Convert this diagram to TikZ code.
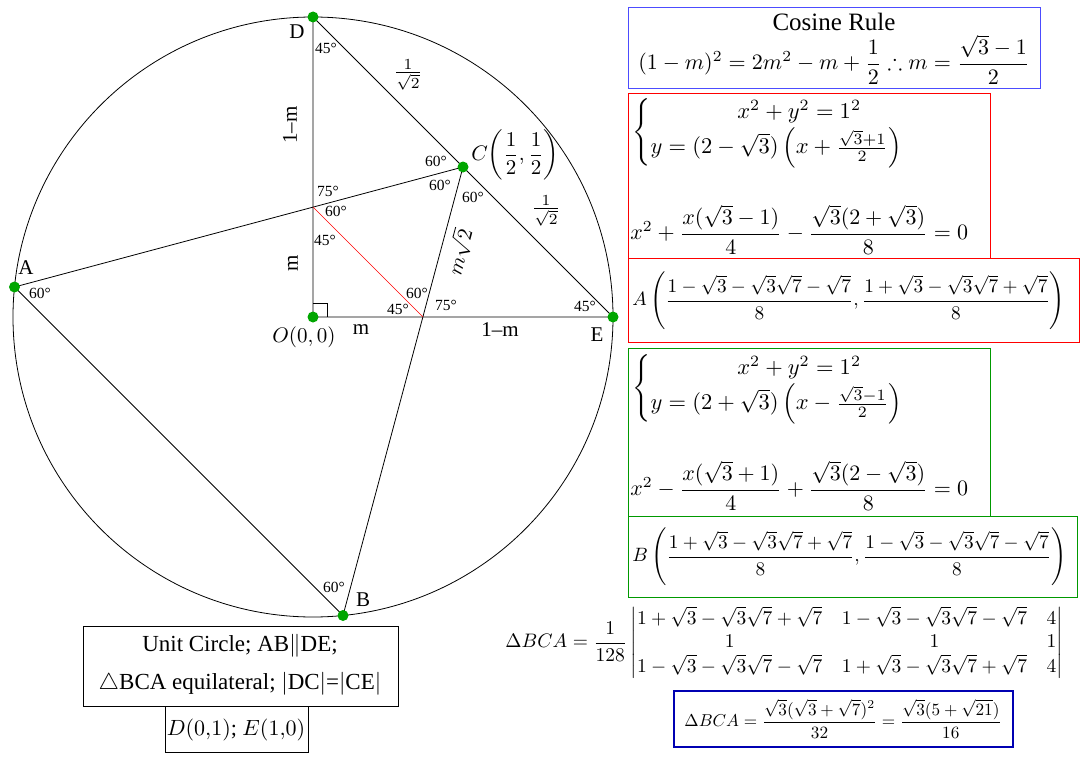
\documentclass[tikz,border=0pt]{standalone}
\usepackage{amsmath,amssymb}
\usepackage{fontspec}
\setmainfont{Liberation Serif}
\newcommand\SB[2]{\scalebox{#1}{#2}}
\begin{document}
\begin{tikzpicture}[x=1pt,y=-1pt,line width=0.8pt,
  dot/.style={circle,fill=green!65!black,inner sep=0pt,minimum size=11pt},
  ang/.style={font=\fontsize{15.5}{16}\selectfont,inner sep=1pt},
  lab/.style={font=\fontsize{21}{22}\selectfont}]
\useasboundingbox (0,0) rectangle (1090,760);
\draw (313,317) circle (300);
\coordinate (O) at (313,317);
\coordinate (D) at (313,17);
\coordinate (E) at (613,317);
\coordinate (C) at (463,167);
\coordinate (A) at (14.5,287);
\coordinate (B) at (343,615.5);
\coordinate (P) at (313,207);
\coordinate (Q) at (423,317);
\draw (D) -- (O) -- (E) -- (D);
\draw (A) -- (C) -- (B) -- (A);
\draw[red,line width=0.6pt] (P) -- (Q);
\draw (O) ++(0,-14) -| ++(14,14);
\foreach \p in {O,D,E,C,A,B} \node[dot] at (\p) {};
% labels
\node[lab] at (297,32) {D};
\node[lab] at (26,268) {A};
\node[lab] at (363,600) {B};
\node[lab] at (597,335) {E};
\node[anchor=west,inner sep=0pt] at (471,155) {\SB{2.1}{$C\!\left(\dfrac12,\dfrac12\right)$}};
\node at (304,337) {\SB{2.1}{$O(0,0)$}};
\node[lab] at (361,330) {m};
\node[lab] at (500,330) {1--m};
\node[lab,rotate=90] at (293,263) {m};
\node[lab,rotate=90] at (290,125) {1--m};
\node at (408,75) {\SB{2.2}{$\frac{1}{\sqrt2}$}};
\node at (546,211) {\SB{2.2}{$\frac{1}{\sqrt2}$}};
\node[rotate=75] at (459,252) {\SB{2.1}{$m\sqrt2$}};
% angles
\node[ang] at (326,48) {45°};
\node[ang] at (40,293) {60°};
\node[ang] at (334,587) {60°};
\node[ang] at (585,306) {45°};
\node[ang] at (436,161) {60°};
\node[ang] at (440,185) {60°};
\node[ang] at (473,197) {60°};
\node[ang] at (328,191) {75°};
\node[ang] at (336,211) {60°};
\node[ang] at (325,240) {45°};
\node[ang] at (417,293) {60°};
\node[ang] at (398,309) {45°};
\node[ang] at (446,305) {75°};
% right boxes
\draw[blue!70,line width=0.6pt] (628,7) rectangle (1040,88);
\node at (834,22) {\fontsize{25}{26}\selectfont Cosine Rule};
\node at (834,60) {\SB{2.2}{$(1-m)^2=2m^2-m+\dfrac12 \therefore m=\dfrac{\sqrt3-1}{2}$}};
\draw[red,line width=0.6pt] (628,93) rectangle (990,258);
\node[anchor=west,inner sep=0pt] at (632,132) {\SB{2.25}{$\begin{cases} \hphantom{y={}}\quad\quad x^2+y^2=1^2\\ y=(2-\sqrt3)\left(x+\frac{\sqrt3+1}{2}\right)\end{cases}$}};
\node[anchor=west,inner sep=0pt] at (630,230) {\SB{2.2}{$x^2+\dfrac{x(\sqrt3-1)}{4}-\dfrac{\sqrt3(2+\sqrt3)}{8}=0$}};
\draw[red,line width=0.6pt] (628,258) rectangle (1079,342);
\node[anchor=west,inner sep=0pt] at (632,301) {\SB{1.93}{$A\left(\dfrac{1-\sqrt3-\sqrt3\sqrt7-\sqrt7}{8},\dfrac{1+\sqrt3-\sqrt3\sqrt7+\sqrt7}{8}\right)$}};
\draw[green!60!black,line width=0.6pt] (628,348) rectangle (990,516);
\node[anchor=west,inner sep=0pt] at (632,388) {\SB{2.25}{$\begin{cases} \hphantom{y={}}\quad\quad x^2+y^2=1^2\\ y=(2+\sqrt3)\left(x-\frac{\sqrt3-1}{2}\right)\end{cases}$}};
\node[anchor=west,inner sep=0pt] at (630,486) {\SB{2.2}{$x^2-\dfrac{x(\sqrt3+1)}{4}+\dfrac{\sqrt3(2-\sqrt3)}{8}=0$}};
\draw[green!60!black,line width=0.6pt] (628,516) rectangle (1077,597);
\node[anchor=west,inner sep=0pt] at (632,557) {\SB{1.93}{$B\left(\dfrac{1+\sqrt3-\sqrt3\sqrt7+\sqrt7}{8},\dfrac{1-\sqrt3-\sqrt3\sqrt7-\sqrt7}{8}\right)$}};
\node[anchor=west,inner sep=0pt] at (505,643) {\SB{1.95}{$\Delta BCA=\dfrac{1}{128}\begin{vmatrix}1+\sqrt3-\sqrt3\sqrt7+\sqrt7 & 1-\sqrt3-\sqrt3\sqrt7-\sqrt7 & 4\\ 1 & 1 & 1\\ 1-\sqrt3-\sqrt3\sqrt7-\sqrt7 & 1+\sqrt3-\sqrt3\sqrt7+\sqrt7 & 4\end{vmatrix}$}};
\draw[blue!70!black,line width=2pt] (674,691) rectangle (1013,747);
\node at (843,719) {\SB{1.72}{$\Delta BCA=\dfrac{\sqrt3(\sqrt3+\sqrt7)^2}{32}=\dfrac{\sqrt3(5+\sqrt{21})}{16}$}};
% bottom left
\draw[line width=0.6pt] (83,626) rectangle (398,706);
\node at (240,646) {\SB{2.3}{Unit Circle; AB$\|$DE;}};
\node at (240,684) {\SB{2.3}{$\triangle$BCA equilateral; $|$DC$|$=$|$CE$|$}};
\draw[line width=0.6pt] (165,706) rectangle (308,752);
\node at (236,730) {\SB{2.2}{$D(0{,}1)$; $E(1{,}0)$}};
\end{tikzpicture}
\end{document}
